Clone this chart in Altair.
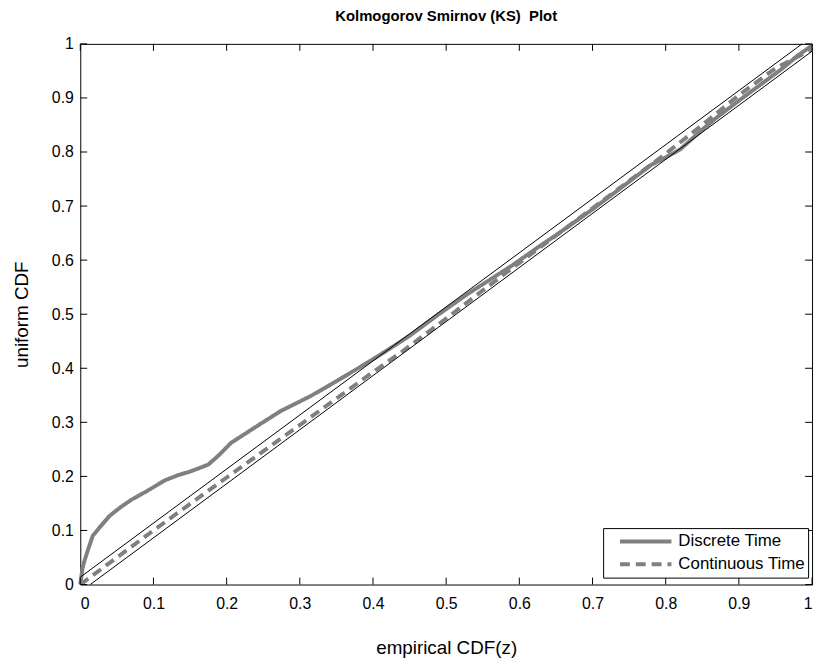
import altair as alt
import pandas as pd

# ---- data ----
disc_x = [0, 0.003, 0.006, 0.01, 0.017, 0.026, 0.04, 0.055, 0.07, 0.09, 0.116, 0.135,
          0.148, 0.162, 0.175, 0.19, 0.206, 0.238, 0.274, 0.314, 0.35, 0.387, 0.418,
          0.45, 0.49, 0.53, 0.59, 0.63, 0.65, 0.7, 0.75, 0.78, 0.8, 0.82, 0.847, 0.87,
          0.9, 0.93, 0.96, 0.98, 1.0]
disc_y = [0, 0.03, 0.045, 0.062, 0.09, 0.105, 0.127, 0.143, 0.157, 0.172, 0.193, 0.203,
          0.208, 0.215, 0.222, 0.24, 0.262, 0.29, 0.321, 0.348, 0.376, 0.406, 0.432,
          0.46, 0.5, 0.538, 0.59, 0.628, 0.646, 0.694, 0.745, 0.776, 0.79, 0.805, 0.838,
          0.864, 0.895, 0.925, 0.955, 0.978, 0.997]

cont_x = [0, 0.05, 0.1, 0.2, 0.3, 0.4, 0.44, 0.5, 0.553, 0.6, 0.7, 0.8, 0.85, 0.9, 0.95, 1.0]
cont_y = [0, 0.05, 0.1, 0.198, 0.295, 0.393, 0.431, 0.492, 0.547, 0.595, 0.696, 0.797,
          0.85, 0.905, 0.955, 0.99]

upper_x = [0.0, 0.9864]
upper_y = [0.0136, 1.0]
lower_x = [0.0136, 1.0]
lower_y = [0.0, 0.9864]

ticks = [0.0, 0.1, 0.2, 0.3, 0.4, 0.5, 0.6, 0.7, 0.8, 0.9, 1.0]
series_names = ["Discrete Time", "Continuous Time"]

# ---- tables ----
curves = pd.concat([
    pd.DataFrame({"x": disc_x, "y": disc_y, "series": series_names[0]}),
    pd.DataFrame({"x": cont_x, "y": cont_y, "series": series_names[1]}),
])
bounds = pd.concat([
    pd.DataFrame({"x": upper_x, "y": upper_y, "b": "upper"}),
    pd.DataFrame({"x": lower_x, "y": lower_y, "b": "lower"}),
])
tick_df = pd.DataFrame({"t": ticks})

W, H = 739, 546
FONT = "Liberation Sans"
xs = alt.Scale(domain=[0, 1], nice=False, zero=False)
ys = alt.Scale(domain=[0, 1], nice=False, zero=False)
x_axis = alt.Axis(values=ticks, format="~g", domain=False, ticks=False, grid=False,
                  labelFontSize=16, labelPadding=11, titleFontSize=19, titlePadding=28,
                  titleFontWeight="normal", labelColor="black", titleColor="black")
y_axis = alt.Axis(values=ticks, format="~g", domain=False, ticks=False, grid=False,
                  labelFontSize=16, labelPadding=7, titleFontSize=19, titlePadding=20,
                  titleFontWeight="normal", labelColor="black", titleColor="black")

X = lambda f: alt.X(f, type="quantitative", scale=xs, axis=x_axis, title="empirical CDF(z)")
Y = lambda f: alt.Y(f, type="quantitative", scale=ys, axis=y_axis, title="uniform CDF")

lines = alt.Chart(curves).mark_line(strokeWidth=4).encode(
    x=X("x"), y=Y("y"),
    color=alt.Color("series:N", scale=alt.Scale(domain=series_names, range=["#808080", "#808080"]),
                    legend=alt.Legend(title=None)),
    strokeDash=alt.StrokeDash("series:N", scale=alt.Scale(domain=series_names, range=[[1, 0], [10, 6]]),
                              legend=alt.Legend(title=None)),
)

bound_lines = alt.Chart(bounds).mark_line(color="black", strokeWidth=1).encode(
    x=X("x"), y=Y("y"), detail="b:N"
)

tb = alt.Chart(tick_df).mark_rule(color="black", strokeWidth=1).encode(
    x=X("t"), y=alt.value(H), y2=alt.value(H - 7))
tt = alt.Chart(tick_df).mark_rule(color="black", strokeWidth=1).encode(
    x=X("t"), y=alt.value(0), y2=alt.value(7))
tl = alt.Chart(tick_df).mark_rule(color="black", strokeWidth=1).encode(
    y=Y("t"), x=alt.value(0), x2=alt.value(7))
tr = alt.Chart(tick_df).mark_rule(color="black", strokeWidth=1).encode(
    y=Y("t"), x=alt.value(W), x2=alt.value(W - 7))

chart = alt.layer(lines, bound_lines, tb, tt, tl, tr).properties(
    width=W, height=H,
    title=alt.TitleParams("Kolmogorov Smirnov (KS)\u00a0 Plot", fontSize=15, fontWeight="bold",
                          font=FONT, color="black", offset=12, anchor="middle"),
    autosize=alt.AutoSizeParams(type="none"),
    padding={"left": 73, "top": 33, "right": 5, "bottom": 75},
).configure(font=FONT).configure_view(
    stroke="black", strokeWidth=1
).configure_legend(
    orient="none", legendX=528, legendY=489, strokeColor="black", fillColor="white",
    padding=3, labelFontSize=17, labelFont=FONT, labelColor="black",
    symbolType="stroke", symbolStrokeWidth=4, symbolSize=2704, rowPadding=2,
    clipHeight=21, symbolOffset=12, labelOffset=5,
)

chart.save("out.html", embed_options={"renderer": "svg", "actions": False})
